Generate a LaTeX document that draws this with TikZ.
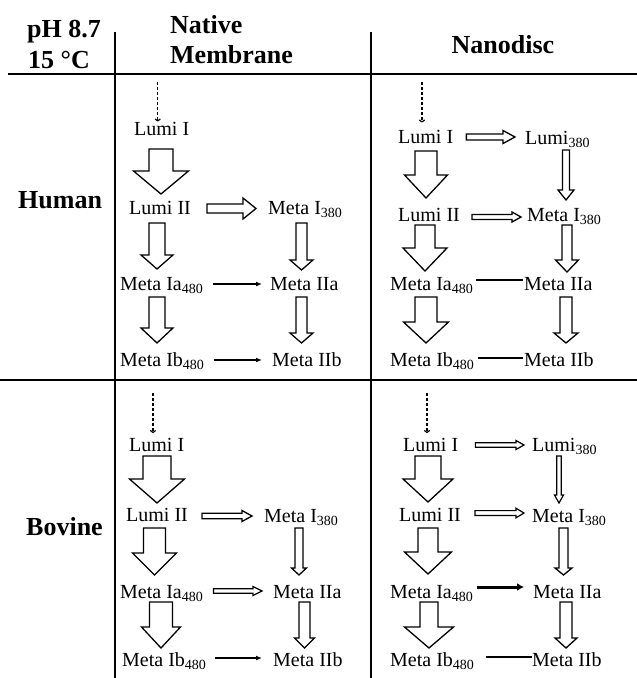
\documentclass[tikz,border=0pt]{standalone}
\usepackage{fontspec}
\setmainfont{Liberation Serif}
\usetikzlibrary{calc,arrows.meta}

\newcommand\sub[1]{\textsubscript{#1}}

% Hollow block arrow pointing down, from node #2 to node #3.
% #4 x offset from the source's base west, #5 drop below the source baseline,
% #6 tip height above the target baseline, #7 shaft half width,
% #8 head half width, #9 head length (all in pt).
\newcommand\downblock[9][]{%
  \draw[block,#1] let \p1=(#2.base west), \p2=(#3.base west) in
    (\x1+#4pt-#7pt,\y1-#5pt) -- (\x1+#4pt+#7pt,\y1-#5pt)
    -- (\x1+#4pt+#7pt,\y2+#6pt+#9pt) -- (\x1+#4pt+#8pt,\y2+#6pt+#9pt)
    -- (\x1+#4pt,\y2+#6pt)
    -- (\x1+#4pt-#8pt,\y2+#6pt+#9pt) -- (\x1+#4pt-#7pt,\y2+#6pt+#9pt) -- cycle;}

% Hollow block arrow pointing right, from node #2 to node #3.
% #4 gap after the source, #5 gap before the target, #6 height above the
% baseline, #7 shaft half width, #8 head half width, #9 head length.
\newcommand\rightblock[9][]{%
  \draw[block,#1] let \p1=(#2.base east), \p2=(#3.base west) in
    (\x1+#4pt,\y1+#6pt-#7pt) -- (\x2-#5pt-#9pt,\y1+#6pt-#7pt)
    -- (\x2-#5pt-#9pt,\y1+#6pt-#8pt) -- (\x2-#5pt,\y1+#6pt)
    -- (\x2-#5pt-#9pt,\y1+#6pt+#8pt) -- (\x2-#5pt-#9pt,\y1+#6pt+#7pt)
    -- (\x1+#4pt,\y1+#6pt+#7pt) -- cycle;}

% Plain horizontal link between two nodes on one row.
\newcommand\linkright[6][]{%
  \draw[#1] let \p1=(#2.base east), \p2=(#3.base west) in
    (\x1+#4pt,\y1+#6pt) -- (\x2-#5pt,\y1+#6pt);}

\tikzset{
  lbl/.style={font=\fontsize{20}{24}\selectfont, inner sep=0pt, anchor=base west},
  hdr/.style={font=\fontsize{26}{30}\selectfont\bfseries, inner sep=0pt, anchor=base west},
  rule/.style={line width=2pt},
  block/.style={draw, line width=1.3pt, fill=white, line join=miter},
  thinblock/.style={line width=1.2pt},
  thinarrow/.style={line width=1.2pt, -{Latex[length=6pt,width=5pt]}},
  thickarrow/.style={line width=3pt, -{Latex[length=7pt,width=8pt]}},
  plainline/.style={line width=1.2pt},
  dasharrow/.style={line width=1.2pt, dash pattern=on 3pt off 2pt, -{To[length=3pt,width=6pt]}}
}

\begin{document}
\begin{tikzpicture}[x=1pt,y=-1pt]
\useasboundingbox (0,0) rectangle (637,678);

% table rules
\draw[rule] (8,74) -- (637,74);
\draw[rule] (0,380) -- (637,380);
\draw[rule] (115,32) -- (115,678);
\draw[rule] (371,32) -- (371,678);

% headings
\node[hdr] (ph) at (27,37) {pH 8.7};
\node[hdr] (temp) at (28,68) {15 °C};
\node[hdr] (native) at (170,33) {Native};
\node[hdr] (membrane) at (170,63) {Membrane};
\node[hdr, anchor=base] (nano) at (503,53) {Nanodisc};
\node[hdr] (human) at (18,208) {Human};
\node[hdr] (bovine) at (26,535) {Bovine};

% ---- human, native membrane
\node[lbl] (aL1) at (134,135) {Lumi I};
\node[lbl] (aL2) at (129,214) {Lumi II};
\node[lbl] (aM1) at (268,214) {Meta I\sub{380}};
\node[lbl] (aIa) at (120,290) {Meta Ia\sub{480}};
\node[lbl] (aIIa) at (270,290) {Meta IIa};
\node[lbl] (aIb) at (120,366) {Meta Ib\sub{480}};
\node[lbl] (aIIb) at (272,366) {Meta IIb};
\coordinate (aS) at (157.7,82);
\draw[dasharrow] (aS) -- (aS |- aL1.north);
\downblock{aL1}{aL2}{27}{14}{20}{12}{27.5}{23}
\downblock{aL2}{aIa}{28}{9}{21}{8}{16}{14}
\downblock{aIa}{aIb}{37}{7}{23}{8}{16}{15}
\downblock{aM1}{aIIa}{33.5}{9}{20}{5.5}{11.5}{10}
\downblock{aIIa}{aIIb}{31.5}{7}{23}{5.5}{11.5}{10}
\rightblock{aL2}{aM1}{16}{12}{5.5}{4.5}{10.5}{13}
\linkright[thinarrow]{aIa}{aIIa}{9.5}{8}{6}
\linkright[thinarrow]{aIb}{aIIb}{9}{10}{6}

% ---- human, nanodisc
\node[lbl] (bL1) at (398,143.5) {Lumi I};
\node[lbl] (bL380) at (525,144) {Lumi\sub{380}};
\node[lbl] (bL2) at (398,221.5) {Lumi II};
\node[lbl] (bM1) at (527,221.5) {Meta I\sub{380}};
\node[lbl] (bIa) at (390,290) {Meta Ia\sub{480}};
\node[lbl] (bIIa) at (524,290) {Meta IIa};
\node[lbl] (bIb) at (390,366) {Meta Ib\sub{480}};
\node[lbl] (bIIb) at (524,366) {Meta IIb};
\coordinate (bS) at (422,82);
\draw[dasharrow, shorten >=7.5pt] (bS) -- (bS |- bL1.north);
\downblock{bL1}{bL2}{28}{7.5}{23.5}{11}{21.5}{23}
\downblock{bL2}{bIa}{27}{3.5}{19}{10}{22}{23}
\downblock{bIa}{bIb}{36}{7}{23}{11}{22.5}{21}
\downblock{bL380}{bM1}{41}{6}{21.5}{3.5}{8}{10}
\downblock{bM1}{bIIa}{40}{3.5}{18}{5}{11.5}{12}
\downblock{bIIa}{bIIb}{42}{7}{23}{6}{12}{10}
\rightblock{bL1}{bL380}{13}{10}{6.5}{3}{6.5}{12}
\rightblock{bL2}{bM1}{12}{6}{4.5}{2.5}{5}{9}
\linkright[plainline]{bIa}{bIIa}{2.5}{1}{10}
\linkright[plainline]{bIb}{bIIb}{3}{1}{8}

% ---- bovine, native membrane
\node[lbl] (cL1) at (129,451.5) {Lumi I};
\node[lbl] (cL2) at (126,521.5) {Lumi II};
\node[lbl] (cM1) at (264,522) {Meta I\sub{380}};
\node[lbl] (cIa) at (120,598) {Meta Ia\sub{480}};
\node[lbl] (cIIa) at (273,598) {Meta IIa};
\node[lbl] (cIb) at (122,666) {Meta Ib\sub{480}};
\node[lbl] (cIIb) at (273,666) {Meta IIb};
\coordinate (cS) at (153,393);
\draw[dasharrow, shorten >=5pt] (cS) -- (cS |- cL1.north);
\downblock{cL1}{cL2}{28}{4.5}{18.5}{14}{27.5}{24}
\downblock{cL2}{cIa}{28.5}{6.5}{23}{11}{22}{22}
\downblock{cIa}{cIb}{41}{4}{18}{11.5}{19.5}{21}
\downblock{cM1}{cIIa}{35}{6}{23}{4}{7.5}{7}
\downblock{cIIa}{cIIb}{31.5}{4}{18}{5.5}{10}{10}
\rightblock{cL2}{cM1}{14}{12}{5.5}{2.75}{5.5}{10}
\rightblock[thinblock]{cIa}{cIIa}{10}{11}{7}{2.2}{4.5}{9}
\linkright[thinarrow]{cIb}{cIIb}{8}{11}{8}

% ---- bovine, nanodisc
\node[lbl] (dL1) at (403,451.5) {Lumi I};
\node[lbl] (dL380) at (532,451.5) {Lumi\sub{380}};
\node[lbl] (dL2) at (399,521.5) {Lumi II};
\node[lbl] (dM1) at (532,522) {Meta I\sub{380}};
\node[lbl] (dIa) at (390,598) {Meta Ia\sub{480}};
\node[lbl] (dIIa) at (533,598) {Meta IIa};
\node[lbl] (dIb) at (390,666) {Meta Ib\sub{480}};
\node[lbl] (dIIb) at (532,666) {Meta IIb};
\coordinate (dS) at (427,393);
\draw[dasharrow, shorten >=5pt] (dS) -- (dS |- dL1.north);
\downblock{dL1}{dL2}{25}{4.5}{19.5}{13}{25}{23}
\downblock{dL2}{dIa}{29}{6.5}{24}{10}{23.5}{22}
\downblock{dIa}{dIb}{39}{4}{18}{9}{24.5}{21}
\downblock[thinblock]{dL380}{dM1}{27}{4.5}{19}{2.2}{4.5}{8}
\downblock{dM1}{dIIa}{31.5}{6}{23}{4.5}{8.5}{7}
\downblock{dIIa}{dIIb}{33}{4}{18}{6}{11}{10}
\rightblock[thinblock]{dL1}{dL380}{17}{8}{6.5}{2.2}{4.5}{8}
\rightblock[thinblock]{dL2}{dM1}{14}{8}{8.5}{2.4}{4.8}{8}
\linkright[thickarrow]{dIa}{dIIa}{3}{9}{11}
\linkright[plainline]{dIb}{dIIb}{11}{0}{9}
\end{tikzpicture}
\end{document}
